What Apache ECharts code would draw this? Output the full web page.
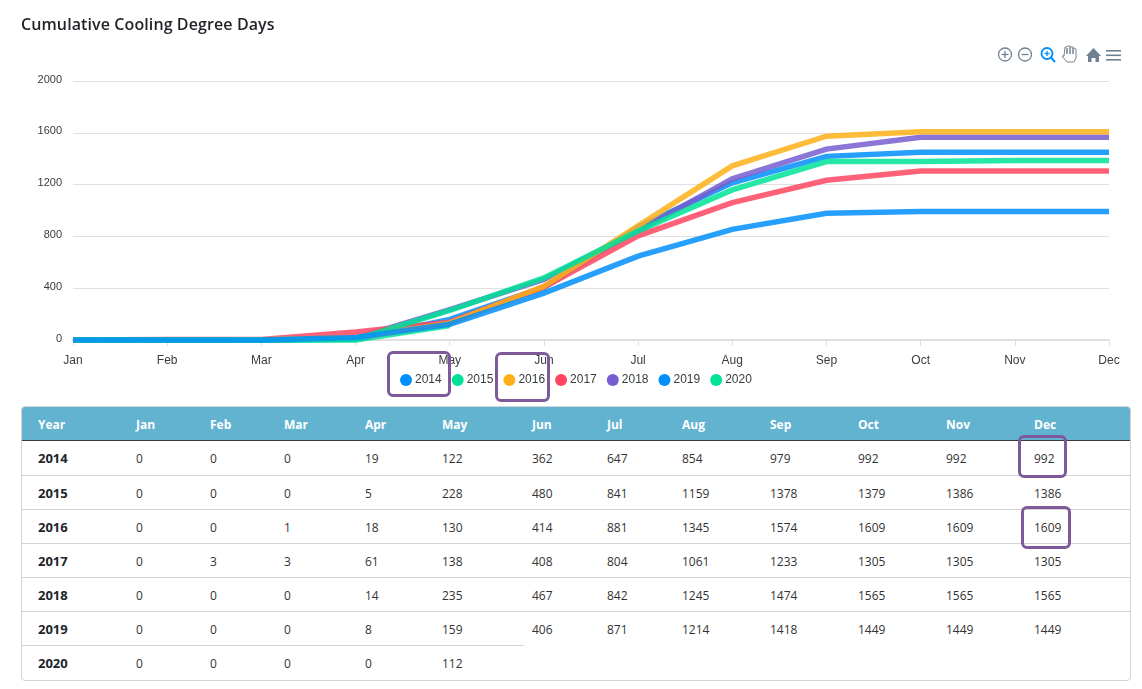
<!DOCTYPE html>
<html>
<head>
<meta charset="utf-8">
<title>Cumulative Cooling Degree Days</title>
<script src="https://cdn.jsdelivr.net/npm/echarts@6/dist/echarts.min.js"></script>
<style>
html,body{margin:0;padding:0;background:#fff;}
#page{position:relative;width:1142px;height:689px;overflow:hidden;}
#title{position:absolute;left:21px;top:13px;font:600 16px "Open Sans",sans-serif;letter-spacing:.1px;color:#212529;white-space:nowrap;}
#chart{position:absolute;left:0;top:0;width:1142px;height:400px;}
#tableWrap{position:absolute;left:21px;top:406px;width:1108px;height:273px;border:1px solid #d4d4d4;border-radius:4px;overflow:hidden;}
#tableWrap table{border-collapse:separate;border-spacing:0;table-layout:fixed;width:1108px;font:12px "Open Sans",sans-serif;color:#333;}
#tableWrap th{height:31px;padding:2px 0 0 8px;text-align:left;background:#62b3d0;color:#fff;font-size:12px;font-weight:700;border-bottom:1px solid #343a40;}
#tableWrap td{height:31px;padding:2px 0 0 8px;border-top:1px solid #d4d4d4;}
#tableWrap td:first-child{font-size:13px;font-weight:700;color:#212529;padding-top:0;height:33px;}
#tableWrap tbody tr:first-child td{border-top:0;height:34px;padding-top:0;}
#tableWrap th:first-child,#tableWrap td:first-child{padding-left:16px;}
.mark{position:absolute;box-sizing:border-box;border:3px solid #7e5a9b;border-radius:6px;}
</style>
</head>
<body>
<div id="page">
	<div id="chart"></div>
	<div id="title">Cumulative Cooling Degree Days</div>
	<div id="tableWrap"></div>
	<div class="mark" style="left:387px;top:351px;width:64px;height:46px;"></div>
	<div class="mark" style="left:495px;top:352px;width:55px;height:50px;"></div>
	<div class="mark" style="left:1018px;top:435px;width:49px;height:43px;"></div>
	<div class="mark" style="left:1021px;top:506px;width:50px;height:43px;"></div>
</div>
<script>
var months = ['Jan','Feb','Mar','Apr','May','Jun','Jul','Aug','Sep','Oct','Nov','Dec'];
var years = ['2014','2015','2016','2017','2018','2019','2020'];
var yearColors = ['#008FFB','#00E396','#FEB019','#FF4560','#775DD0','#008FFB','#00E396'];
var yTicks = [0,400,800,1200,1600,2000];

var d2014 = [0,0,0,19,122,362,647,854,979,992,992,992];
var d2015 = [0,0,0,5,228,480,841,1159,1378,1379,1386,1386];
var d2016 = [0,0,1,18,130,414,881,1345,1574,1609,1609,1609];
var d2017 = [0,3,3,61,138,408,804,1061,1233,1305,1305,1305];
var d2018 = [0,0,0,14,235,467,842,1245,1474,1565,1565,1565];
var d2019 = [0,0,0,8,159,406,871,1214,1418,1449,1449,1449];
var d2020 = [0,0,0,0,112];
var allData = [d2014,d2015,d2016,d2017,d2018,d2019,d2020];

//表格
var colWidths = [106,74,74,81,77,90,75,75,88,88,88,88,104];
var html = '<table><colgroup>';
for (var c = 0; c < colWidths.length; c++) {
	html += '<col style="width:' + colWidths[c] + 'px">';
}
html += '</colgroup><thead><tr><th>Year</th>';
for (var m = 0; m < months.length; m++) {
	html += '<th>' + months[m] + '</th>';
}
html += '<th></th></tr></thead><tbody>';
for (var i = 0; i < years.length; i++) {
	html += '<tr><td>' + years[i] + '</td>';
	for (var j = 0; j < allData[i].length; j++) {
		html += '<td>' + allData[i][j] + '</td>';
	}
	html += '</tr>';
}
html += '</tbody></table>';
document.getElementById('tableWrap').innerHTML = html;

//折线
var seriesList = [];
for (var s = 0; s < years.length; s++) {
	seriesList.push({
		name: years[s],
		type: 'line',
		data: allData[s],
		z: 10 - s,
		showSymbol: false,
		clip: false,
		itemStyle: {color: yearColors[s]},
		lineStyle: {width: 5.5, color: yearColors[s], opacity: 0.85, join: 'miter'}
	});
}

//工具栏图标
var gray = '#6E8192';
var blue = '#008FFB';
var tools = [
	{type:'circle',shape:{cx:1005,cy:54.5,r:6.5},style:{fill:'none',stroke:gray,lineWidth:1.3}},
	{type:'line',shape:{x1:1001.5,y1:54.5,x2:1008.5,y2:54.5},style:{stroke:gray,lineWidth:1.3}},
	{type:'line',shape:{x1:1005,y1:51,x2:1005,y2:58},style:{stroke:gray,lineWidth:1.3}},
	{type:'circle',shape:{cx:1025,cy:54.5,r:6.5},style:{fill:'none',stroke:gray,lineWidth:1.3}},
	{type:'line',shape:{x1:1021.5,y1:54.5,x2:1028.5,y2:54.5},style:{stroke:gray,lineWidth:1.3}},
	{type:'circle',shape:{cx:1047,cy:53.5,r:5.5},style:{fill:'none',stroke:blue,lineWidth:1.8}},
	{type:'line',shape:{x1:1051,y1:57.5,x2:1055,y2:62},style:{stroke:blue,lineWidth:2}},
	{type:'line',shape:{x1:1044.5,y1:53.5,x2:1049.5,y2:53.5},style:{stroke:blue,lineWidth:1.3}},
	{type:'line',shape:{x1:1047,y1:51,x2:1047,y2:56},style:{stroke:blue,lineWidth:1.3}},
	{type:'polygon',shape:{points:[[1064,56],[1065,47],[1067,47],[1067.5,46],[1070,46],[1071,47],[1073,47],[1074,48],[1076,49],[1076,58],[1074,62],[1067,62],[1062,56]]},style:{fill:'#fff',stroke:'#77838f',lineWidth:1}},
	{type:'line',shape:{x1:1067,y1:48,x2:1067,y2:54},style:{stroke:'#77838f',lineWidth:1.5}},
	{type:'line',shape:{x1:1070,y1:47,x2:1070,y2:54},style:{stroke:'#77838f',lineWidth:1.5}},
	{type:'line',shape:{x1:1073,y1:48,x2:1073,y2:54},style:{stroke:'#77838f',lineWidth:1.5}},
	{type:'polygon',shape:{points:[[1086,56],[1093.5,48],[1101,56],[1099,56],[1099,62],[1095.5,62],[1095.5,58],[1091.5,58],[1091.5,62],[1088,62],[1088,56]]},style:{fill:gray}},
	{type:'rect',shape:{x:1106,y:50,width:15,height:1.6},style:{fill:gray}},
	{type:'rect',shape:{x:1106,y:54.5,width:15,height:1.6},style:{fill:gray}},
	{type:'rect',shape:{x:1106,y:59,width:15,height:1.6},style:{fill:gray}}
];

var myCharts = echarts.init(document.getElementById('chart'));
myCharts.setOption({
	animation: false,
	textStyle: {fontFamily: '"Liberation Sans", Arial, sans-serif'},
	grid: {left: 73, right: 33, top: 81, height: 259, containLabel: false},
	legend: {
		show: true,
		left: 395,
		top: 369,
		data: years,
		icon: 'circle',
		itemWidth: 12,
		itemHeight: 12,
		itemGap: 10,
		selectedMode: false,
		textStyle: {fontSize: 12, color: '#373d3f', padding: [0,0,0,-2]}
	},
	xAxis: {
		type: 'category',
		data: months,
		boundaryGap: false,
		axisLine: {lineStyle: {color: '#e0e0e0', width: 2}},
		axisTick: {show: true, alignWithLabel: true, length: 6, lineStyle: {color: '#e0e0e0'}},
		axisLabel: {fontSize: 12, color: '#373d3f', margin: 15, interval: 0, showMaxLabel: true, showMinLabel: true},
		splitLine: {show: false}
	},
	yAxis: {
		type: 'value',
		min: yTicks[0],
		max: yTicks[yTicks.length - 1],
		interval: 400,
		axisLine: {show: false},
		axisTick: {show: false},
		axisLabel: {fontSize: 11, color: '#373d3f', margin: 11, verticalAlign: 'bottom', lineHeight: 13, padding: [0,0,-5,0], formatter: function(v){ return String(v); }},
		splitLine: {lineStyle: {color: '#e0e0e0', width: 1}}
	},
	series: seriesList,
	graphic: {elements: tools}
});
</script>
</body>
</html>
